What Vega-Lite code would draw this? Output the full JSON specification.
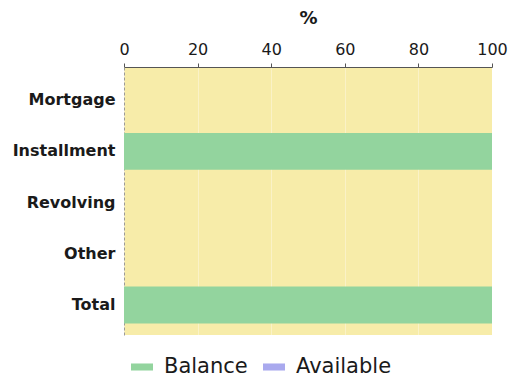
{
  "$schema": "https://vega.github.io/schema/vega-lite/v6.json",
  "width": 368,
  "height": 268,
  "autosize": {"type": "none"},
  "padding": {"left": 124, "top": 67, "right": 18, "bottom": 48},
  "background": "#ffffff",
  "view": {"fill": "#f7eca9", "stroke": null},
  "data": {
    "values": [
      {"category": "Mortgage", "series": "Balance", "pct": 0},
      {"category": "Installment", "series": "Balance", "pct": 100},
      {"category": "Revolving", "series": "Balance", "pct": 0},
      {"category": "Other", "series": "Balance", "pct": 0},
      {"category": "Total", "series": "Balance", "pct": 100},
      {"category": "Mortgage", "series": "Available", "pct": 0},
      {"category": "Installment", "series": "Available", "pct": 0},
      {"category": "Revolving", "series": "Available", "pct": 0},
      {"category": "Other", "series": "Available", "pct": 0},
      {"category": "Total", "series": "Available", "pct": 0}
    ]
  },
  "mark": {"type": "bar"},
  "encoding": {
    "y": {
      "field": "category",
      "type": "nominal",
      "sort": ["Mortgage", "Installment", "Revolving", "Other", "Total"],
      "scale": {"paddingInner": 0.28, "paddingOuter": 0.257, "align": 0.56},
      "axis": {
        "title": null,
        "ticks": false,
        "labelPadding": 9,
        "labelFont": "DejaVu Sans",
        "labelFontWeight": "bold",
        "labelFontSize": 16,
        "labelColor": "#1a1a1a",
        "domainColor": "#9a9a9a",
        "domainDash": [3, 2]
      }
    },
    "x": {
      "field": "pct",
      "type": "quantitative",
      "stack": "zero",
      "scale": {"domain": [0, 100], "nice": false},
      "axis": {
        "orient": "top",
        "title": "%",
        "values": [0, 20, 40, 60, 80, 100],
        "titleFont": "DejaVu Sans",
        "titleFontSize": 18,
        "titleFontWeight": "bold",
        "titleColor": "#1a1a1a",
        "titlePadding": 14,
        "labelFont": "DejaVu Sans",
        "labelFontSize": 16,
        "labelColor": "#1a1a1a",
        "labelPadding": 6,
        "labelFlush": false,
        "tickSize": 4,
        "tickColor": "#555555",
        "domainColor": "#555555",
        "grid": true,
        "gridColor": "#ffffff",
        "gridOpacity": 0.35
      }
    },
    "color": {
      "field": "series",
      "type": "nominal",
      "scale": {"domain": ["Balance", "Available"], "range": ["#93d49e", "#a9a9ee"]},
      "legend": {
        "title": null,
        "orient": "none",
        "direction": "horizontal",
        "legendX": 7,
        "legendY": 289,
        "padding": 0,
        "symbolType": "M-1,-0.32H1V0.32H-1Z",
        "symbolSize": 484,
        "symbolStrokeWidth": 0,
        "labelFont": "DejaVu Sans",
        "labelFontSize": 21,
        "labelColor": "#1a1a1a",
        "labelOffset": 11,
        "columnPadding": 15
      }
    },
    "order": {"field": "series", "sort": "descending"}
  }
}
